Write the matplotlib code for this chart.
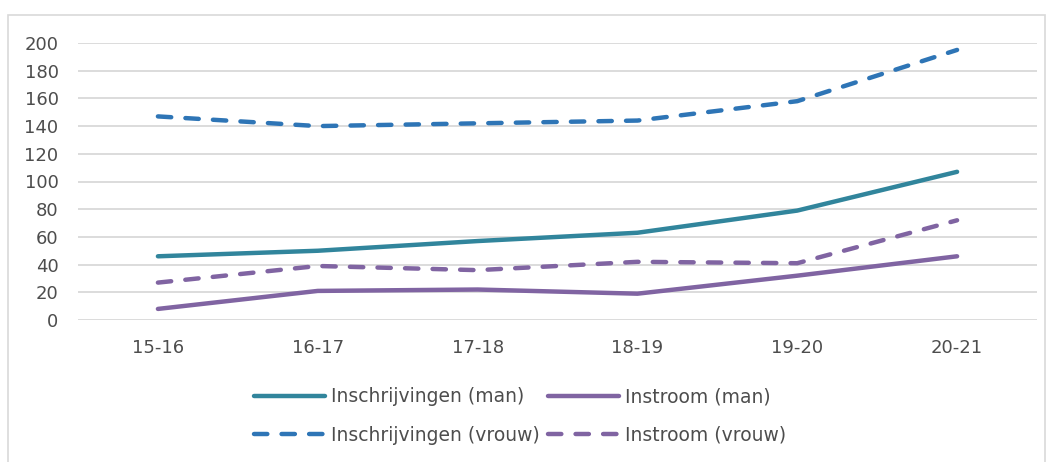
import matplotlib.pyplot as plt
from matplotlib.patches import Rectangle

# Schooljaren en aantallen per reeks.
jaren = ["15-16", "16-17", "17-18", "18-19", "19-20", "20-21"]
inschrijvingen_man = [46, 50, 57, 63, 79, 107]
instroom_man = [8, 21, 22, 19, 32, 46]
inschrijvingen_vrouw = [147, 140, 142, 144, 158, 195]
instroom_vrouw = [27, 39, 36, 42, 41, 72]

teal = "#31859C"
paars = "#8064A2"
blauw = "#2E75B6"
tekst = "#4d4d4d"


def main():
  plt.rcParams['font.family'] = ['DejaVu Sans']

  fig = plt.figure(figsize=(10.53, 4.62), dpi=100)
  ax = fig.add_axes([78 / 1053, 142 / 462, 959 / 1053, 277 / 462])

  # Kader rond de grafiek.
  fig.patches.append(Rectangle((8 / 1053, -0.05), 1037 / 1053, (447 / 462) + 0.05,
                               transform=fig.transFigure, fill=False,
                               edgecolor="#d9d9d9", linewidth=1.2))

  x = range(len(jaren))
  stijl = dict(linewidth=3.2, solid_capstyle="round", dash_capstyle="round", clip_on=False)
  gestreept = (0, (3.0, 3.2))
  l1, = ax.plot(x, inschrijvingen_man, color=teal, label="Inschrijvingen (man)", **stijl)
  l2, = ax.plot(x, instroom_man, color=paars, label="Instroom (man)", **stijl)
  l3, = ax.plot(x, inschrijvingen_vrouw, color=blauw, linestyle=gestreept,
                label="Inschrijvingen (vrouw)", **stijl)
  l4, = ax.plot(x, instroom_vrouw, color=paars, linestyle=gestreept,
                label="Instroom (vrouw)", **stijl)

  ax.set_xlim(-0.5, len(jaren) - 0.5)
  ax.set_ylim(0, 200)
  ax.set_yticks(range(0, 201, 20))
  ax.set_xticks(list(x))
  ax.set_xticklabels(jaren)
  ax.grid(axis="y", color="#d9d9d9", linewidth=1.3)
  ax.set_axisbelow(True)
  for spine in ax.spines.values():
    spine.set_visible(False)
  ax.tick_params(axis="both", length=0, labelsize=13, colors=tekst)
  ax.tick_params(axis="y", pad=14)
  ax.tick_params(axis="x", pad=14)

  # Volgorde zodat de rijen man / vrouw worden.
  handles = [l1, l3, l2, l4]
  fig.legend(handles, [h.get_label() for h in handles], loc="center",
             bbox_to_anchor=(520 / 1053, 1 - 416 / 462), ncol=2,
             frameon=False, fontsize=13.5, handlelength=3.8, handletextpad=0.32,
             columnspacing=0.45, labelspacing=1.05, labelcolor=tekst)

  plt.savefig("out.png", dpi=100)


if __name__ == "__main__":
  main()
